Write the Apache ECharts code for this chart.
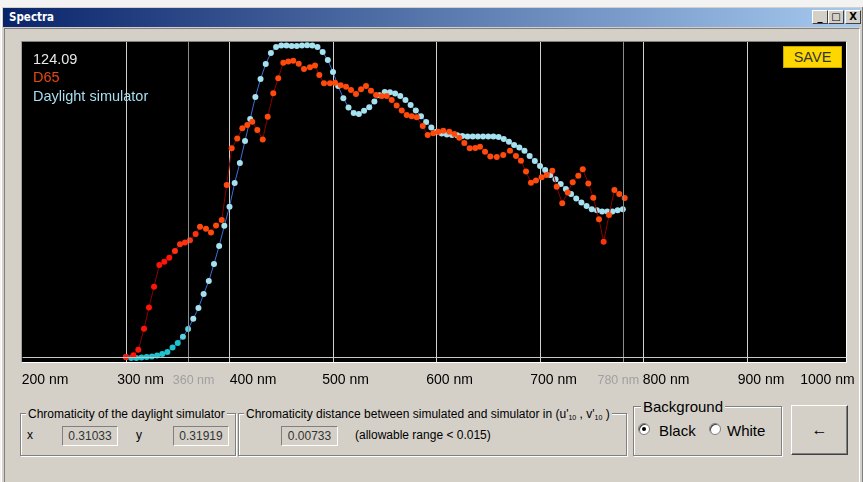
<!DOCTYPE html>
<html><head><meta charset="utf-8">
<script src="https://cdn.jsdelivr.net/npm/echarts@6.0.0/dist/echarts.min.js"></script>
<style>
*{box-sizing:border-box}
html,body{margin:0;padding:0;width:863px;height:482px;overflow:hidden;background:#f3f3f3;font-family:"Liberation Sans",Arial,sans-serif;}
.abs{position:absolute}
#frame{left:1px;top:7px;width:862px;height:475px;background:#d4d0c8;border-left:1px solid #ffffff;border-right:1px solid #808080;}
#titlebar{left:3px;top:8px;width:857px;height:19px;background:linear-gradient(to right,#0a246a,#a6caf0);}
#title{left:9px;top:11px;color:#fff;font:bold 11.5px "DejaVu Sans Condensed","DejaVu Sans",sans-serif;line-height:13px;}
.tbtn{top:10px;width:16px;height:14px;background:#d4d0c8;border-top:1px solid #fff;border-left:1px solid #fff;border-right:1px solid #404040;border-bottom:1px solid #404040;font:bold 10px "DejaVu Sans",sans-serif;text-align:center;line-height:12px;color:#000;}
#client{left:4px;top:28px;width:856px;height:454px;border-top:1px solid #808080;border-left:1px solid #808080;border-right:1px solid #ffffff;}
#plot{left:21px;top:41px;width:826px;height:322px;background:#000;border-top:1px solid #808080;border-left:1px solid #a0a0a0;border-right:1px solid #ffffff;border-bottom:1px solid #ffffff;}
#chart{left:0;top:0;width:863px;height:482px;z-index:5;}
#save{left:783px;top:46px;width:59px;height:22px;background:#ffd700;border:1px solid #c8a400;color:#333;font-size:14.5px;line-height:21px;text-align:center;z-index:6;}
.grp{border:1px solid #808080;box-shadow:1px 1px 0 #ffffff, inset 1px 1px 0 #ffffff;}
.lg{background:#d4d0c8;padding:0 2px;font-size:12px;line-height:14px;color:#000;white-space:nowrap;}
.t12{font-size:12px;line-height:16px;color:#000;white-space:nowrap;}
.box{height:20px;border-top:1px solid #808080;border-left:1px solid #808080;border-right:1px solid #fff;border-bottom:1px solid #fff;font-size:12px;line-height:18px;text-align:center;color:#333;background:#d4d0c8;}
.radio{width:12px;height:12px;border-radius:50%;background:#fff;border:1px solid #808080;box-shadow:inset 1px 1px 0 #404040;}
.dot{left:3px;top:3px;width:4px;height:4px;border-radius:50%;background:#000;}
.t15{font-size:15px;line-height:18px;color:#000;white-space:nowrap;}
sub{font-size:7px;vertical-align:-2px;}
</style></head>
<body>
<div id="frame" class="abs"></div>
<div id="titlebar" class="abs"></div>
<div id="title" class="abs">Spectra</div>
<div class="abs tbtn" style="left:812px;">_</div>
<div class="abs tbtn" style="left:828px;">&#9633;</div>
<div class="abs tbtn" style="left:845px;">X</div>
<div id="client" class="abs"></div>
<div id="plot" class="abs"></div>
<div id="chart" class="abs"></div>
<div id="save" class="abs">SAVE</div>

<div class="abs grp" style="left:20px;top:413px;width:216px;height:43px;"></div>
<div class="abs lg" style="left:26px;top:407px;">Chromaticity of the daylight simulator</div>
<div class="abs t12" style="left:27px;top:427px;">x</div>
<div class="abs box" style="left:62px;top:426px;width:56px;">0.31033</div>
<div class="abs t12" style="left:136px;top:427px;">y</div>
<div class="abs box" style="left:173px;top:426px;width:56px;">0.31919</div>

<div class="abs grp" style="left:238px;top:413px;width:389px;height:43px;"></div>
<div class="abs lg" style="left:244px;top:407px;">Chromaticity distance between simulated and simulator in (u'<sub>10</sub> , v'<sub>10</sub> )</div>
<div class="abs box" style="left:281px;top:426px;width:57px;">0.00733</div>
<div class="abs t12" style="left:355px;top:427px;">(allowable range &lt; 0.015)</div>

<div class="abs grp" style="left:633px;top:406px;width:149px;height:50px;"></div>
<div class="abs lg" style="left:641px;top:398px;font-size:15px;line-height:18px;">Background</div>
<div class="abs radio" style="left:638px;top:423px;"><div class="abs dot"></div></div>
<div class="abs t15" style="left:659px;top:422px;">Black</div>
<div class="abs radio" style="left:709px;top:423px;"></div>
<div class="abs t15" style="left:727px;top:422px;">White</div>

<div class="abs" style="left:791px;top:405px;width:57px;height:50px;border-top:1px solid #fff;border-left:1px solid #fff;border-right:1px solid #404040;border-bottom:1px solid #404040;box-shadow:inset -1px -1px 0 #808080;font-size:16px;line-height:48px;text-align:center;color:#000;">&#8592;</div>

<script>
// ---- data ----
const simNm = [300,305,310,315,320,325,330,335,340,345,350,355,360,365,370,375,380,385,390,395,
  400,405,410,415,420,425,430,435,440,445,450,455,460,465,470,475,480,485,490,495,
  500,505,510,515,520,525,530,535,540,545,550,555,560,565,570,575,580,585,590,595,
  600,605,610,615,620,625,630,635,640,645,650,655,660,665,670,675,680,685,690,695,
  700,705,710,715,720,725,730,735,740,745,750,755,760,765,770,775,780];
const simVal = [0,-0.3,-0.3,-0.2,0,0.2,0.5,1.0,1.6,3.1,4.5,6.5,9.0,12.3,15.8,20.3,24.5,30.0,35.8,42.3,
  48.5,56.1,62.6,69.7,76.8,83.9,89.7,94.5,98.1,100.0,100.5,100.5,100.3,100.3,100.5,100.6,100.5,100.0,98.4,95.8,
  91.9,87.4,83.5,80.5,78.7,78.4,79.4,80.6,82.4,84.4,85.5,85.4,85.0,84.2,82.9,81.3,79.5,77.7,75.8,74.0,
  72.7,72.1,71.8,71.6,71.5,71.3,71.1,71.1,71.1,71.1,71.1,71.1,71.0,70.3,69.4,68.4,67.6,66.5,64.8,63.2,
  61.6,60.3,58.7,57.3,55.8,54.2,52.6,51.1,49.8,48.7,47.7,47.3,46.9,46.9,46.9,47.3,47.7];
const d65Nm = [300.0,307.1,311.9,317.4,322.2,327.1,332.2,337.0,341.8,347.3,352.2,357.0,361.8,367.3,371.5,377.3,382.1,387.0,392.5,397.3,
  402.1,407.5,412.4,417.2,422.0,426.9,432.1,436.9,442.3,447.1,452.0,456.8,461.6,466.9,472.0,477.8,482.6,486.8,491.3,497.1,
  502.0,507.4,512.6,517.4,522.2,527.1,531.9,536.7,541.6,547.1,551.9,556.7,561.5,566.4,571.2,576.0,580.9,586.7,591.5,596.9,
  601.7,606.6,612.4,617.2,622.0,626.9,632.1,637.5,642.0,646.9,652.0,658.2,664.5,671.0,676.8,681.6,686.5,691.3,696.1,701.6,
  706.5,711.9,716.1,721.5,726.8,731.6,737.0,741.3,746.7,751.5,757.0,761.5,766.7,771.9,776.6,781.8];
const d65Val = [0,0.6,2.3,9.1,16.0,22.7,29.7,30.7,32.0,34.2,36.4,36.9,37.7,39.7,42.0,41.4,40.2,42.4,44.2,55.5,
  67.3,70.5,73.8,74.8,75.9,73.2,70.2,77.5,85.1,89.9,94.9,95.3,95.6,94.6,92.9,93.5,94.0,91.0,88.3,88.3,
  88.5,87.7,87.2,86.1,84.8,86.4,87.4,85.9,84.5,84.2,84.2,82.9,81.1,79.5,78.1,77.7,77.3,74.5,71.6,72.2,
  72.7,73.0,72.7,71.9,70.7,69.0,67.3,67.4,67.8,66.2,64.7,64.5,65.2,66.5,64.8,63.3,59.8,56.2,56.9,58.0,
  58.7,60.1,54.9,49.6,53.1,56.4,58.5,60.6,56.0,51.4,44.4,37.2,45.8,53.9,52.6,51.3];
const axisMin = 200, axisMax = 1000, axisStep = 100;
const minorTicks = [360, 780];
const readout = '124.09';
const nameD65 = 'D65';
const nameSim = 'Daylight simulator';

// ---- styling ----
const FONT = '"Liberation Sans", Arial, sans-serif';
const majorShift = {200:22.5,300:14.5,400:23.5,500:12.5,600:13,700:13.5,800:22.5,900:14,1000:-23};
const minorShift = {360:5.5,780:-4.5};
function richFor(map, size, color){
  const r = {};
  for (const k in map){
    const s = map[k];
    r['s'+k] = {fontSize:size, color:color, fontFamily:FONT, padding: s >= 0 ? [0,0,0,2*s] : [0,-2*s,0,0]};
  }
  return r;
}
function simColor(v){ return v < 6 ? '#1fc3cf' : (v < 12 ? '#5fd0e0' : '#a6e1ef'); }
function d65Color(v){ return v < 33 ? '#ff1408' : (v < 40 ? '#ff3210' : '#ff4a0c'); }

const simData = simNm.map((x,i) => ({value:[x, simVal[i]], itemStyle:{color:simColor(simVal[i])}}));
const d65Data = d65Nm.map((x,i) => ({value:[x, d65Val[i]], itemStyle:{color:d65Color(d65Val[i])}}));

const chart = echarts.init(document.getElementById('chart'), null, {renderer:'canvas'});
chart.setOption({
  animation:false,
  backgroundColor:'transparent',
  grid:{left:22.5, top:42, width:828, height:320, outerBoundsMode:'none'},
  xAxis:[
    {type:'value', min:axisMin, max:axisMax, interval:axisStep,
     axisLine:{show:false}, axisTick:{show:false},
     splitLine:{show:true, showMinLine:false, showMaxLine:false, lineStyle:{color:'#cfcfcf', width:1}},
     axisLabel:{margin:11, showMinLabel:true, showMaxLabel:true,
       formatter:v => '{s'+v+'|'+v+' nm}', rich:richFor(majorShift,14,'#000')}},
    {type:'value', min:axisMin, max:axisMax, position:'bottom',
     axisLine:{show:false}, axisTick:{show:false}, splitLine:{show:false},
     axisLabel:{customValues:minorTicks, margin:12,
       formatter:v => '{s'+v+'|'+v+' nm}', rich:richFor(minorShift,12.5,'#a0a0a0')}}
  ],
  yAxis:{type:'value', min:-1.613, max:101.613, show:false, splitLine:{show:false}},
  series:[
    {type:'line', data:[], silent:true, z:1,
     markLine:{silent:true, symbol:['none','none'], label:{show:false},
       lineStyle:{type:'solid', width:1},
       data:[
         {xAxis:minorTicks[0], lineStyle:{color:'#8c8c8c', type:'solid', width:1}},
         {xAxis:minorTicks[1], lineStyle:{color:'#8c8c8c', type:'solid', width:1}},
         [{coord:[axisMin,0], lineStyle:{color:'#c8c8c8', type:'solid', width:1}},{coord:[996,0]}]
       ]}},
    {type:'line', name:nameSim, data:simData, symbol:'circle', symbolSize:6, z:3,
     lineStyle:{color:'#3b6fd9', width:1}, emphasis:{disabled:true}},
    {type:'line', name:nameD65, data:d65Data, symbol:'circle', symbolSize:6, z:4,
     lineStyle:{color:'#8c0000', width:1}, emphasis:{disabled:true}}
  ],
  graphic:[
    {type:'text', left:33, top:52, style:{text:readout, fill:'#e8e8e8', font:'14.5px '+FONT}},
    {type:'text', left:33, top:70, style:{text:nameD65, fill:'#e8470f', font:'14.5px '+FONT}},
    {type:'text', left:33, top:89, style:{text:nameSim, fill:'#a8dff0', font:'14.5px '+FONT}}
  ]
});
</script>
</body></html>
